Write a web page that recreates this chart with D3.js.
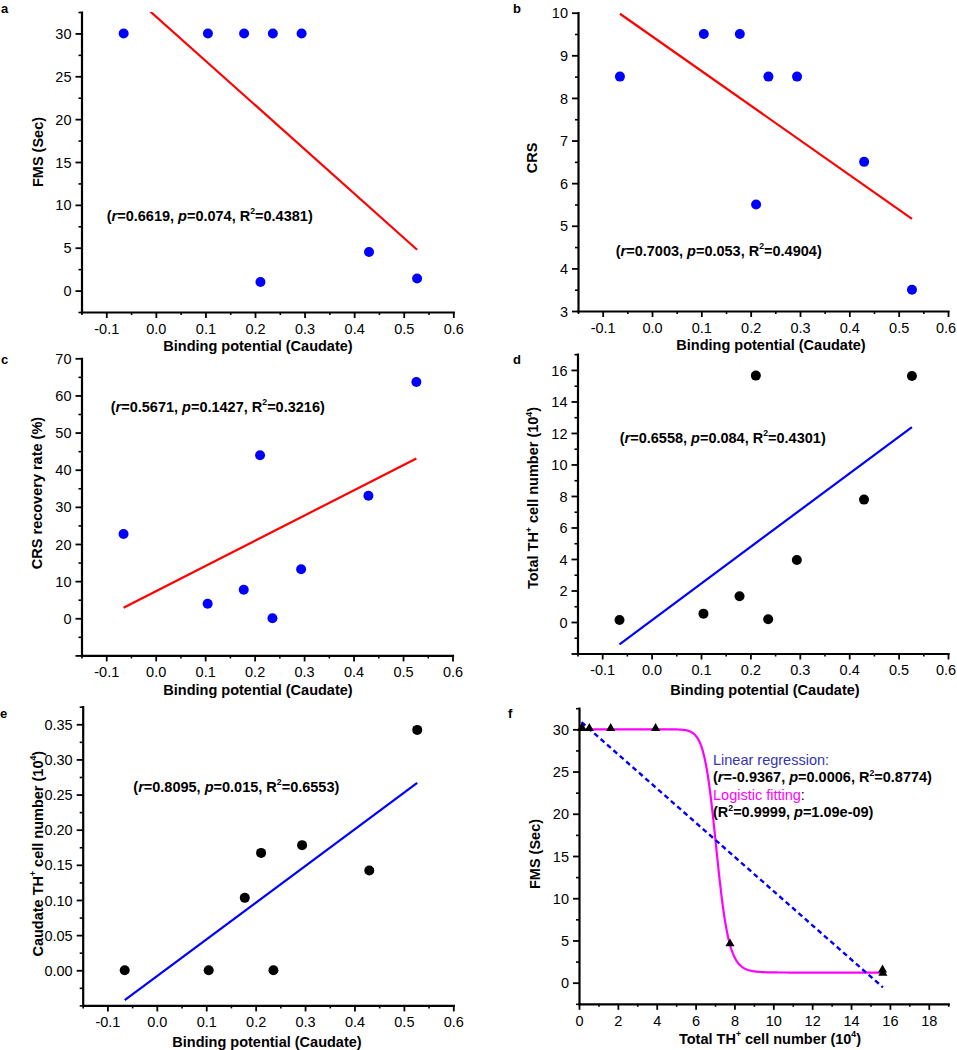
<!DOCTYPE html>
<html><head><meta charset="utf-8">
<script src="https://cdn.jsdelivr.net/npm/d3@7/dist/d3.min.js"></script>
<style>
body{margin:0;background:#fff}
svg{display:block}
text{font-family:"Liberation Sans",Arial,Helvetica,sans-serif}
</style>
</head><body>
<svg id="chart" width="957" height="1050"></svg>
<script>
// ---------------- DATA ----------------
const bindingPotential = [-0.065, 0.105, 0.178, 0.236, 0.294, 0.211, 0.430, 0.527];
const fmsSec           = [30, 30, 30, 30, 30, 1.0, 4.5, 1.4];
const crsScore         = [8.5, 9.5, 9.5, 8.5, 8.5, 5.5, 6.5, 3.5];
const crsRecoveryRate  = [22.7, 3.9, 7.7, 0, 13.2, 43.9, 33.0, 63.6];
const totalTHCells     = [0.13, 0.53, 1.63, 0.17, 3.94, 15.64, 7.77, 15.62];
const caudateTHCells   = [0, 0, 0.103, 0, 0.178, 0.167, 0.142, 0.342];

// logistic fit parameters (A1, A2, x0, p)
const logisticParams = [30, 1.2, 7.08, 22];

// statistics text
const statsA = ["0.6619", "0.074", "0.4381"];
const statsB = ["0.7003", "0.053", "0.4904"];
const statsC = ["0.5671", "0.1427", "0.3216"];
const statsD = ["0.6558", "0.084", "0.4301"];
const statsE = ["0.8095", "0.015", "0.6553"];
const statsFLinear = ["-0.9367", "0.0006", "0.8774"];
const statsFLogistic = ["0.9999", "1.09e-09"];

// ticks
const bpTicks = [-0.1, 0, 0.1, 0.2, 0.3, 0.4, 0.5, 0.6];
const bpTickLabels = ["-0.1", "0.0", "0.1", "0.2", "0.3", "0.4", "0.5", "0.6"];
const bpMinorTicks = [-0.15, -0.05, 0.05, 0.15, 0.25, 0.35, 0.45, 0.55];
const fmsTicks = [0, 5, 10, 15, 20, 25, 30];
const fmsTickLabels = ["0", "5", "10", "15", "20", "25", "30"];
const fmsMinorTicks = [-2.5, 2.5, 7.5, 12.5, 17.5, 22.5, 27.5, 32.5];
const crsTicks = [3, 4, 5, 6, 7, 8, 9, 10];
const crsTickLabels = ["3", "4", "5", "6", "7", "8", "9", "10"];
const crsMinorTicks = [3.5, 4.5, 5.5, 6.5, 7.5, 8.5, 9.5];
const rateTicks = [-10, 0, 10, 20, 30, 40, 50, 60, 70];
const rateTickLabels = ["", "0", "10", "20", "30", "40", "50", "60", "70"];
const rateMinorTicks = [-5, 5, 15, 25, 35, 45, 55, 65];
const thTicks = [-2, 0, 2, 4, 6, 8, 10, 12, 14, 16];
const thTickLabels = ["", "0", "2", "4", "6", "8", "10", "12", "14", "16"];
const thMinorTicks = [-1, 1, 3, 5, 7, 9, 11, 13, 15, 17];
const cthTicks = [0, 0.05, 0.10, 0.15, 0.20, 0.25, 0.30, 0.35];
const cthTickLabels = ["0.00", "0.05", "0.10", "0.15", "0.20", "0.25", "0.30", "0.35"];
const cthMinorTicks = [-0.05, -0.025, 0.025, 0.075, 0.125, 0.175, 0.225, 0.275, 0.325, 0.375];
const thXTicks = [0, 2, 4, 6, 8, 10, 12, 14, 16, 18];
const thXTickLabels = ["0", "2", "4", "6", "8", "10", "12", "14", "16", "18"];
const thXMinorTicks = [1, 3, 5, 7, 9, 11, 13, 15, 17, 19];

// ---------------- DRAWING ----------------
const svg = d3.select("#chart");
const FONT = '"Liberation Sans",Arial,Helvetica,sans-serif';
const ANN = 14.5;

function linearFit(xs, ys) {
  const mx = d3.mean(xs), my = d3.mean(ys);
  let sxy = 0, sxx = 0;
  xs.forEach((v, i) => { sxy += (v - mx) * (ys[i] - my); sxx += (v - mx) * (v - mx); });
  const b = sxy / sxx;
  return { slope: b, intercept: my - b * mx };
}

function richText(parent, x, y, segs, size, weight, fill) {
  const t = parent.append("text").attr("x", x).attr("y", y)
    .attr("font-size", size).attr("font-weight", weight).attr("fill", fill || "#000");
  let raised = false;
  segs.forEach(s => {
    const ts = t.append("tspan").text(s.t);
    if (s.italic) ts.attr("font-style", "italic");
    if (s.fill) ts.attr("fill", s.fill);
    if (s.sup) {
      ts.attr("font-size", size * 0.6).attr("dy", -size * 0.42);
      raised = true;
    } else if (raised) {
      ts.attr("dy", size * 0.42);
      raised = false;
    }
  });
  return t;
}

function statSegs(st) {
  return [
    { t: "(" }, { t: "r", italic: true }, { t: "=" + st[0] + ", " },
    { t: "p", italic: true }, { t: "=" + st[1] + ", R" }, { t: "2", sup: true },
    { t: "=" + st[2] + ")" }
  ];
}

function drawAxes(g, cfg, x, y) {
  // minor ticks
  g.append("g").attr("transform", `translate(0,${cfg.B})`)
    .call(d3.axisBottom(x).tickValues(cfg.xMinor).tickSize(3).tickSizeOuter(0).tickFormat(""))
    .call(a => a.select(".domain").remove())
    .call(a => a.selectAll("line").attr("stroke-width", 1.6));
  g.append("g").attr("transform", `translate(${cfg.L},0)`)
    .call(d3.axisLeft(y).tickValues(cfg.yMinor).tickSize(3).tickSizeOuter(0).tickFormat(""))
    .call(a => a.select(".domain").remove())
    .call(a => a.selectAll("line").attr("stroke-width", 1.6));
  // major ticks
  const xa = g.append("g").attr("transform", `translate(0,${cfg.B})`)
    .call(d3.axisBottom(x).tickValues(cfg.xMajor).tickSize(6).tickSizeOuter(0).tickPadding(5.5)
      .tickFormat((d, i) => cfg.xLabels[i]));
  const ya = g.append("g").attr("transform", `translate(${cfg.L},0)`)
    .call(d3.axisLeft(y).tickValues(cfg.yMajor).tickSize(6).tickSizeOuter(0).tickPadding(4)
      .tickFormat((d, i) => cfg.yLabels[i]));
  [xa, ya].forEach(a => {
    a.attr("font-family", FONT).attr("font-size", 14.5);
    a.selectAll("text").attr("fill", "#000");
    a.selectAll("line").attr("stroke", "#000").attr("stroke-width", 1.8);
    a.select(".domain").attr("stroke", "#000").attr("stroke-width", 2.2).attr("stroke-linecap", "square");
  });
  ya.selectAll("text").attr("dy", "0.35em");
  if (cfg.lastDx) xa.selectAll(".tick:last-of-type text").attr("dx", cfg.lastDx);
}

function axisLabels(g, cfg) {
  richText(g, cfg.xlx, cfg.xly, cfg.xLabel, 14.5, "bold").attr("text-anchor", "middle");
  richText(g, 0, 0, cfg.yLabel, 14.5, "bold").attr("text-anchor", "middle")
    .attr("transform", `translate(${cfg.ylx + 5},${cfg.yly}) rotate(-90)`);
  g.append("text").attr("x", cfg.letter[1]).attr("y", cfg.letter[2])
    .attr("font-size", 13).attr("font-weight", "bold").text(cfg.letter[0]);
}

function scatterPanel(cfg) {
  const g = svg.append("g");
  const x = d3.scaleLinear().domain(cfg.xDomain).range([cfg.L, cfg.R]);
  const y = d3.scaleLinear().domain(cfg.yDomain).range([cfg.B, cfg.T]);
  const clipId = "clip" + cfg.letter[0];
  svg.append("clipPath").attr("id", clipId).append("rect")
    .attr("x", cfg.L).attr("y", cfg.T).attr("width", cfg.R - cfg.L).attr("height", cfg.B - cfg.T);

  const fit = linearFit(cfg.xs, cfg.ys);
  const ext = d3.extent(cfg.xs);
  g.append("path")
    .attr("clip-path", `url(#${clipId})`)
    .attr("d", d3.line().x(d => x(d)).y(d => y(fit.intercept + fit.slope * d))(ext))
    .attr("fill", "none").attr("stroke", cfg.lineColor).attr("stroke-width", 2.2);

  g.selectAll("circle.pt").data(cfg.xs.map((v, i) => [v, cfg.ys[i]])).join("circle")
    .attr("class", "pt").attr("cx", d => x(d[0])).attr("cy", d => y(d[1])).attr("r", 5)
    .attr("fill", cfg.dotColor);

  drawAxes(g, cfg, x, y);
  axisLabels(g, cfg);
  richText(g, cfg.ann[0], cfg.ann[1], statSegs(cfg.stats), ANN, "bold");
}

const bpLabel = [{ t: "Binding potential (Caudate)" }];
const common = {
  xDomain: [-0.15, 0.6], xMajor: bpTicks, xLabels: bpTickLabels, xMinor: bpMinorTicks,
  xs: bindingPotential, xLabel: bpLabel
};

// a
scatterPanel(Object.assign({}, common, {
  letter: ["a", 1, 12.5], L: 81.5, R: 453.3, T: 12, B: 312,
  yDomain: [-2.5, 32.5], yMajor: fmsTicks, yLabels: fmsTickLabels, yMinor: fmsMinorTicks,
  ys: fmsSec, lineColor: "#ff0000", dotColor: "#0000ff",
  yLabel: [{ t: "FMS (Sec)" }], xlx: 258, xly: 350.5, ylx: 37.5, yly: 152,
  stats: statsA, ann: [106.7, 220.5]
}));
// b
scatterPanel(Object.assign({}, common, {
  letter: ["b", 513, 12.5], L: 578, R: 948, T: 12.7, B: 311,
  yDomain: [3, 10], yMajor: crsTicks, yLabels: crsTickLabels, yMinor: crsMinorTicks,
  ys: crsScore, lineColor: "#ff0000", dotColor: "#0000ff", lastDx: -2.5,
  yLabel: [{ t: "CRS" }], xlx: 771, xly: 350, ylx: 532, yly: 158,
  stats: statsB, ann: [615.7, 255.5]
}));
// c
scatterPanel(Object.assign({}, common, {
  letter: ["c", 1, 364], L: 81.5, R: 452.5, T: 358.3, B: 655.4,
  yDomain: [-10, 70], yMajor: rateTicks, yLabels: rateTickLabels, yMinor: rateMinorTicks,
  ys: crsRecoveryRate, lineColor: "#ff0000", dotColor: "#0000ff",
  yLabel: [{ t: "CRS recovery rate (%)" }], xlx: 258, xly: 695, ylx: 37, yly: 493,
  stats: statsC, ann: [110.7, 411.5]
}));
// d
scatterPanel(Object.assign({}, common, {
  letter: ["d", 513, 364], L: 577.5, R: 948, T: 354.2, B: 653.5,
  yDomain: [-2, 17], yMajor: thTicks, yLabels: thTickLabels, yMinor: thMinorTicks,
  ys: totalTHCells, lineColor: "#0000ff", dotColor: "#000000", lastDx: -2.5,
  yLabel: [{ t: "Total TH" }, { t: "+", sup: true }, { t: " cell number (10" }, { t: "4", sup: true }, { t: ")" }],
  xlx: 765, xly: 695, ylx: 533, yly: 498,
  stats: statsD, ann: [619.7, 442.5]
}));
// e
scatterPanel(Object.assign({}, common, {
  letter: ["e", 0, 718.3], L: 82.7, R: 453.3, T: 706.7, B: 1005.4,
  yDomain: [-0.05, 0.375], yMajor: cthTicks, yLabels: cthTickLabels, yMinor: cthMinorTicks,
  ys: caudateTHCells, lineColor: "#0000ff", dotColor: "#000000",
  yLabel: [{ t: "Caudate TH" }, { t: "+", sup: true }, { t: " cell number (10" }, { t: "4", sup: true }, { t: ")" }],
  xlx: 267, xly: 1046.5, ylx: 37.5, yly: 853.7,
  stats: statsE, ann: [133.3, 791.5]
}));

// f
(function () {
  const cfg = {
    letter: ["f", 508, 718.3], L: 579, R: 948.2, T: 708.2, B: 1003.8,
    xDomain: [0, 19], xMajor: thXTicks, xLabels: thXTickLabels, xMinor: thXMinorTicks,
    yDomain: [-2.5, 32.5], yMajor: fmsTicks, yLabels: fmsTickLabels, yMinor: fmsMinorTicks,
    xLabel: [{ t: "Total TH" }, { t: "+", sup: true }, { t: " cell number (10" }, { t: "4", sup: true }, { t: ")" }],
    yLabel: [{ t: "FMS (Sec)" }],
    xlx: 770, xly: 1043.5, ylx: 534.7, yly: 854
  };
  const g = svg.append("g");
  const x = d3.scaleLinear().domain(cfg.xDomain).range([cfg.L, cfg.R]);
  const y = d3.scaleLinear().domain(cfg.yDomain).range([cfg.B, cfg.T]);
  svg.append("clipPath").attr("id", "clipf").append("rect")
    .attr("x", cfg.L).attr("y", cfg.T).attr("width", cfg.R - cfg.L).attr("height", cfg.B - cfg.T + 6);

  const ext = d3.extent(totalTHCells);
  // logistic curve
  const [A1, A2, x0, p] = logisticParams;
  const xsCurve = d3.range(0, 401).map(i => ext[0] + (ext[1] - ext[0]) * i / 400);
  g.append("path")
    .attr("d", d3.line().x(d => x(d)).y(d => y(A2 + (A1 - A2) / (1 + Math.pow(d / x0, p))))(xsCurve))
    .attr("fill", "none").attr("stroke", "#ff00ff").attr("stroke-width", 2.2);
  // linear regression (dashed)
  const fit = linearFit(totalTHCells, fmsSec);
  g.append("path")
    .attr("clip-path", "url(#clipf)")
    .attr("d", d3.line().x(d => x(d)).y(d => y(fit.intercept + fit.slope * d))(ext))
    .attr("fill", "none").attr("stroke", "#0000ff").attr("stroke-width", 2.4)
    .attr("stroke-dasharray", "5,3.5");
  // triangles
  g.selectAll("path.tri").data(totalTHCells.map((v, i) => [v, fmsSec[i]])).join("path")
    .attr("class", "tri")
    .attr("transform", d => `translate(${x(d[0])},${y(d[1]) - 1})`)
    .attr("d", d3.symbol(d3.symbolTriangle, 36)())
    .attr("fill", "#000");

  drawAxes(g, cfg, x, y);
  axisLabels(g, cfg);

  richText(g, 713, 765, [{ t: "Linear regression:" }], ANN, "normal", "#3535b0");
  richText(g, 713, 782, [
    { t: "(" }, { t: "r", italic: true }, { t: "=" + statsFLinear[0] + ", " },
    { t: "p", italic: true }, { t: "=" + statsFLinear[1] + ", R" }, { t: "2", sup: true },
    { t: "=" + statsFLinear[2] + ")" }
  ], ANN, "bold");
  richText(g, 713, 799.5, [{ t: "Logistic fitting" }, { t: ":", fill: "#000" }], ANN, "normal", "#ff00ff");
  richText(g, 713, 817, [
    { t: "(R" }, { t: "2", sup: true }, { t: "=" + statsFLogistic[0] + ", " },
    { t: "p", italic: true }, { t: "=" + statsFLogistic[1] + ")" }
  ], ANN, "bold");
})();
</script>
</body></html>
